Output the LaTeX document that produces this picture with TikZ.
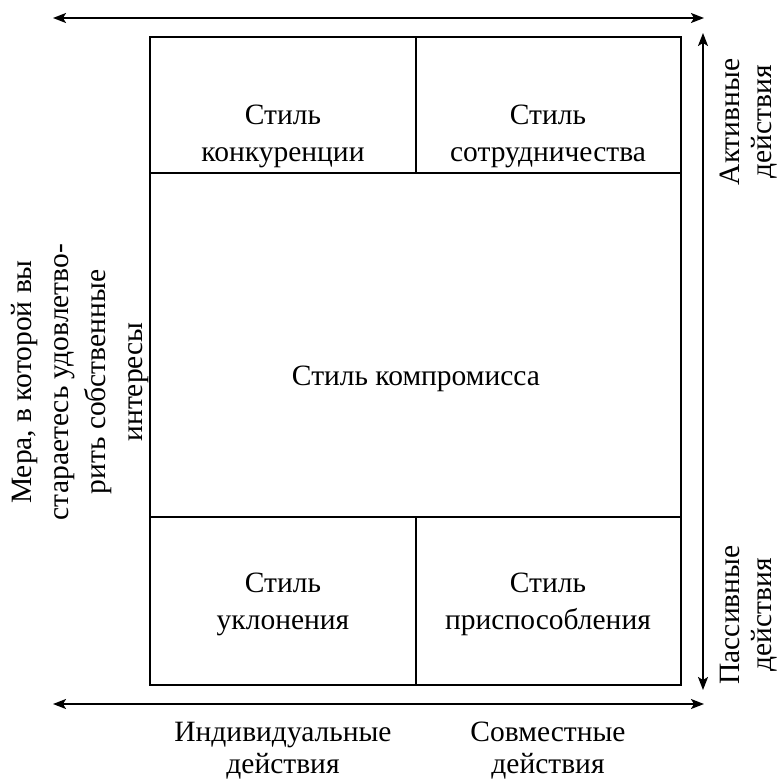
\documentclass[tikz,border=0pt]{standalone}
\usepackage{fontspec}
\setmainfont{Liberation Serif}
\usetikzlibrary{arrows.meta}
\begin{document}
\begin{tikzpicture}[x=1pt,y=-1pt,
  box/.style={draw,line width=1.8pt},
  axis/.style={line width=1.8pt,{Stealth[length=13pt,width=10pt,inset=3pt]}-{Stealth[length=13pt,width=10pt,inset=3pt]}},
  lbl/.style={font=\fontsize{29.5}{37}\selectfont,align=center,inner sep=0pt},
  axlbl/.style={font=\fontsize{29.5}{32}\selectfont,align=center,inner sep=0pt}]
\useasboundingbox (0,0) rectangle (780,782);
% cells
\draw[box] (150,37) rectangle (681,685);
\draw[box] (150,173) -- (681,173);
\draw[box] (150,517) -- (681,517);
\draw[box] (416,37) -- (416,173);
\draw[box] (416,517) -- (416,685);
\node[lbl] (c1) at (283,136) {Стиль\\конкуренции};
\node[lbl] (c2) at (548,136) {Стиль\\сотрудничества};
\node[lbl] (c3) at (416,379) {Стиль компромисса};
\node[lbl] (c4) at (283,604) {Стиль\\уклонения};
\node[lbl] (c5) at (548,604) {Стиль\\приспособления};
% axes
\coordinate (tl) at (53,18);
\coordinate (tr) at (704,18);
\coordinate (bl) at (53,704);
\coordinate (br) at (704,704);
\coordinate (vt) at (703,33);
\coordinate (vb) at (703,690);
\draw[axis] (tl) -- (tr);
\draw[axis] (bl) -- (br);
\draw[axis] (vt) -- (vb);
% axis labels
\node[axlbl,rotate=90] (a1) at (749,122) {Активные\\действия};
\node[axlbl,rotate=90] (a2) at (749,615) {Пассивные\\действия};
\node[axlbl] (b1) at (283,751) {Индивидуальные\\действия};
\node[axlbl] (b2) at (548,751) {Совместные\\действия};
\node[lbl,rotate=90] (l1) at (80,382) {Мера, в которой вы\\стараетесь удовлетво-\\рить собственные\\интересы};
\end{tikzpicture}
\end{document}
